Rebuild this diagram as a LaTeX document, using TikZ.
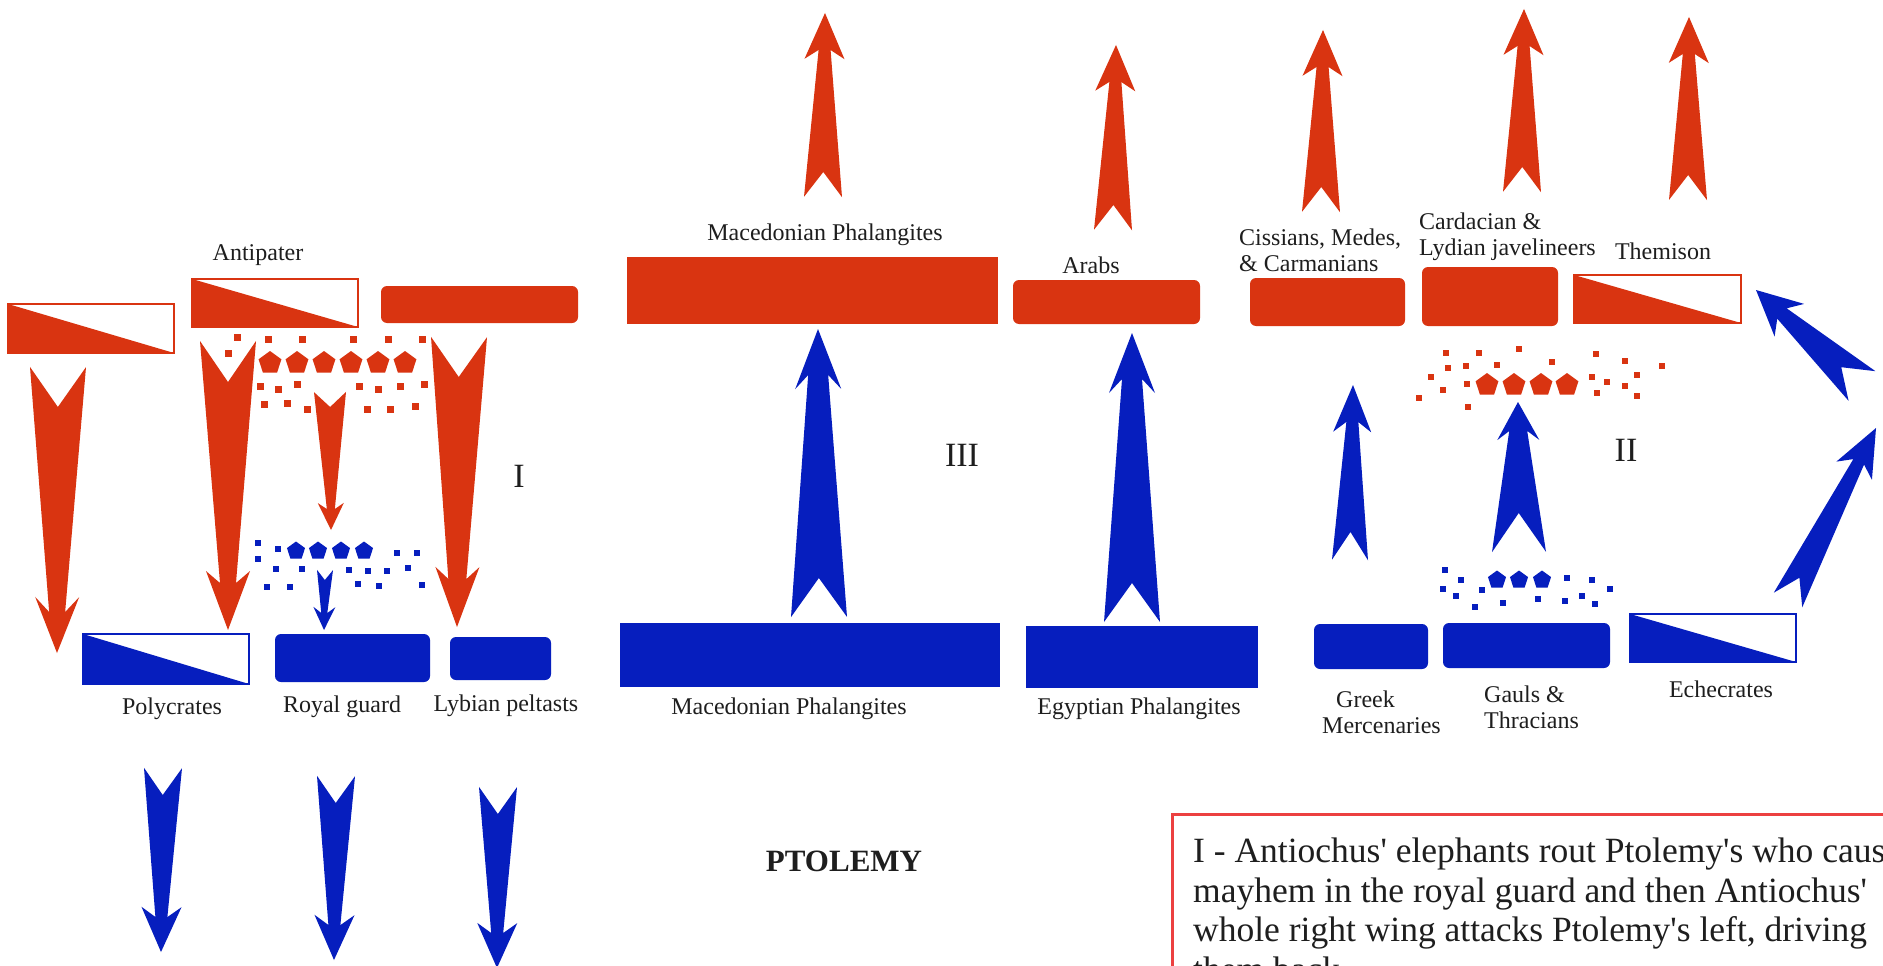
\documentclass[tikz,border=0pt]{standalone}
\usepackage{fontspec}
\setmainfont{Liberation Serif}
\newfontfamily\notefont{Liberation Serif}
\usetikzlibrary{calc}
\definecolor{redA}{RGB}{217,52,17}
\definecolor{blueA}{RGB}{6,30,190}
\definecolor{noteRed}{RGB}{236,64,64}
\definecolor{txt}{RGB}{30,30,30}

\pgfkeys{/arr/.cd,
  wt/.store in=\arrwt, n/.store in=\arrn, wn/.store in=\arrwn,
  wh/.store in=\arrwh, h/.store in=\arrh, d/.store in=\arrd, col/.store in=\arrcol}
% tapered barbed arrow from tail coordinate #2 to tip coordinate #3
\newcommand\battlearrow[3][]{%
  \begingroup
  \pgfkeys{/arr/.cd, wt=19, n=25, wn=6, wh=20, h=46, d=9, col=redA, #1}%
  \pgfmathsetmacro\arrk{\arrh-\arrd}%
  \fill[\arrcol]
    ($(#2)!\arrwt pt!90:(#3)$) -- ($(#2)!\arrn pt!(#3)$) -- ($(#2)!\arrwt pt!-90:(#3)$)
    -- ($(#3)!\arrk pt!(#2)!\arrwn pt!90:(#2)$) -- ($(#3)!\arrh pt!(#2)!\arrwh pt!90:(#2)$)
    -- (#3)
    -- ($(#3)!\arrh pt!(#2)!\arrwh pt!-90:(#2)$) -- ($(#3)!\arrk pt!(#2)!\arrwn pt!-90:(#2)$)
    -- cycle;
  \endgroup}
% half-filled unit box (commander / cavalry)
\newcommand\halfbox[5]{%
  \node[rectangle, draw=#2, line width=2.5pt, fill=white, inner sep=0pt, outer sep=0pt,
        minimum width=#4pt, minimum height=#5pt] (#1) at (#3) {};
  \fill[#2] (#1.north west) -- (#1.south east) -- (#1.south west) -- cycle;}
\newcommand\pent[3]{\fill[#1] (#2) +(270:#3) -- +(342:#3) -- +(54:#3) -- +(126:#3) -- +(198:#3) -- cycle;}

\tikzset{
  blk/.style={rectangle, inner sep=0pt, outer sep=0pt},
  redblk/.style={blk, fill=redA, rounded corners=6pt},
  redsharp/.style={blk, fill=redA},
  blueblk/.style={blk, fill=blueA, rounded corners=6pt},
  bluesharp/.style={blk, fill=blueA},
  lbl/.style={text=txt, inner sep=0pt, font=\fontsize{24}{26}\selectfont},
  mlbl/.style={lbl, align=left, anchor=west},
  numeral/.style={text=txt, inner sep=0pt, font=\fontsize{34}{34}\selectfont},
}

\begin{document}
\begin{tikzpicture}[x=1pt, y=-1pt]
\useasboundingbox (0,0) rectangle (1883,966);
\clip (0,0) rectangle (1883,966);
\fill[white] (0,0) rectangle (1883,966);

% ---------------- Antiochus (red) line ----------------
\halfbox{leftcav}{redA}{91,328.5}{166}{49}
\halfbox{antipater}{redA}{275,303}{166}{48}
\node[redblk, minimum width=197pt, minimum height=37pt] (redinf) at (479.5,304.5) {};
\node[redsharp, minimum width=371pt, minimum height=67pt] (macR) at (812.5,290.5) {};
\node[redblk, minimum width=187pt, minimum height=44pt] (arabs) at (1106.5,302) {};
\node[redblk, minimum width=155pt, minimum height=48pt] (cissians) at (1327.5,302) {};
\node[redblk, minimum width=136pt, minimum height=59pt] (cardacian) at (1490,296.5) {};
\halfbox{themison}{redA}{1657.5,299}{167}{48}

\node[lbl] (antipaterlbl) at (258,255) {Antipater};
\node[lbl] (macRlbl) at (825,235) {Macedonian Phalangites};
\node[lbl] (arabslbl) at (1091,265) {Arabs};
\node[mlbl] (cissianslbl) at (1239,250) {Cissians, Medes,\\\& Carmanians};
\node[mlbl] (cardacianlbl) at (1419,237) {Cardacian \&\\Lydian javelineers};
\node[lbl] (themisonlbl) at (1663,251) {Themison};

% ---------------- Ptolemy (blue) line ----------------
\halfbox{polycrates}{blueA}{166,659}{166}{50}
\node[blueblk, minimum width=155pt, minimum height=48pt] (royal) at (352.5,658) {};
\node[blueblk, minimum width=101pt, minimum height=43pt] (lybian) at (500.5,658.5) {};
\node[bluesharp, minimum width=380pt, minimum height=64pt] (macB) at (810,655) {};
\node[bluesharp, minimum width=232pt, minimum height=62pt] (egypt) at (1142,657) {};
\node[blueblk, minimum width=114pt, minimum height=45pt] (greek) at (1371,646.5) {};
\node[blueblk, minimum width=167pt, minimum height=45pt] (gauls) at (1526.5,645.5) {};
\halfbox{echecrates}{blueA}{1713,638}{166}{48}

\node[lbl] (polycrateslbl) at (172,709) {Polycrates};
\node[lbl] (royallbl) at (342,707) {Royal guard};
\node[lbl] (lybianlbl) at (506,706) {Lybian peltasts};
\node[lbl] (macBlbl) at (789,709) {Macedonian Phalangites};
\node[lbl] (egyptlbl) at (1139,709) {Egyptian Phalangites};
\node[mlbl] (greeklbl) at (1322,712) {\hspace*{14pt}Greek\\Mercenaries};
\node[mlbl] (gaulslbl) at (1484,707) {Gauls \&\\Thracians};
\node[lbl] (echecrateslbl) at (1721,689) {Echecrates};

% ---------------- elephants and light troops ----------------
\foreach \c in {270,297,324,351,378,405} {\pent{redA}{\c,363}{12}}
\foreach \p in {(237,337),(268,339),(302,339),(353,339),(388,339),(422,339),(228,353),
  (260,386),(278,389),(297,384),(359,386),(378,389),(400,386),(424,384),
  (264,404),(287,403),(307,409),(367,409),(390,409),(415,406)}
  {\fill[redA] \p ++(-3.5,-3.5) rectangle ++(7,7);}

\foreach \c in {296,318,341,364} {\pent{blueA}{\c,551}{9.5}}
\foreach \p in {(258,543),(258,559),(278,549),(397,553),(417,553),(276,569),(302,569),
  (349,570),(368,571),(387,571),(408,568),(267,587),(290,587),(358,584),(379,586),(422,585)}
  {\fill[blueA] \p ++(-3,-3) rectangle ++(6,6);}

\foreach \c in {1487,1514,1541,1567} {\pent{redA}{\c,385}{12}}
\foreach \p in {(1446,353),(1479,353),(1519,349),(1448,368),(1466,366),(1497,365),(1552,362),
  (1431,377),(1467,384),(1443,390),(1419,398),(1468,407),(1596,354),(1625,361),(1662,366),
  (1592,377),(1607,382),(1637,375),(1625,386),(1597,393),(1637,396)}
  {\fill[redA] \p ++(-3,-3) rectangle ++(6,6);}

\foreach \c in {1497,1519,1542} {\pent{blueA}{\c,580}{9.5}}
\foreach \p in {(1445,570),(1461,580),(1443,589),(1456,596),(1482,590),(1475,607),(1503,603),
  (1538,599),(1567,578),(1592,580),(1610,589),(1565,601),(1582,596),(1595,604)}
  {\fill[blueA] \p ++(-3,-3) rectangle ++(6,6);}

% ---------------- arrow end points ----------------
\coordinate (r1a) at (58,367);   \coordinate (r1b) at (57,653);
\coordinate (r2a) at (228,341);  \coordinate (r2b) at (228,630);
\coordinate (r3a) at (459,337);  \coordinate (r3b) at (457,627);
\coordinate (r4a) at (330,392);  \coordinate (r4b) at (331,530);
\coordinate (a1a) at (823,197);  \coordinate (a1b) at (825,13);
\coordinate (a2a) at (1113,230); \coordinate (a2b) at (1116,45);
\coordinate (a3a) at (1321,212); \coordinate (a3b) at (1323,30);
\coordinate (a4a) at (1522,192); \coordinate (a4b) at (1524,9);
\coordinate (a5a) at (1688,200); \coordinate (a5b) at (1689,17);

\coordinate (bsa) at (325,570);  \coordinate (bsb) at (324,630);
\coordinate (b1a) at (163,768);  \coordinate (b1b) at (161,952);
\coordinate (b2a) at (336,776);  \coordinate (b2b) at (334,960);
\coordinate (b3a) at (498,787);  \coordinate (b3b) at (497,968);
\coordinate (bma) at (819,617);  \coordinate (bmb) at (818,329);
\coordinate (bea) at (1132,622); \coordinate (beb) at (1132,333);
\coordinate (bga) at (1350,560); \coordinate (bgb) at (1353,385);
\coordinate (bta) at (1519,552); \coordinate (btb) at (1518,402);
\coordinate (bx1a) at (1788,600); \coordinate (bx1b) at (1876,428);
\coordinate (bx2a) at (1862,386); \coordinate (bx2b) at (1756,290);

% ---------------- red arrows ----------------
\battlearrow[wt=28,n=40,wn=8,wh=22,h=56,d=15]{r1a}{r1b}
\battlearrow[wt=28,n=41,wn=8,wh=22,h=59,d=12]{r2a}{r2b}
\battlearrow[wt=28,n=40,wn=9,wh=22,h=60,d=12]{r3a}{r3b}
\battlearrow[wt=16,n=15,wn=4,wh=13,h=27,d=6]{r4a}{r4b}
\battlearrow{a1a}{a1b}
\battlearrow{a2a}{a2b}
\battlearrow{a3a}{a3b}
\battlearrow{a4a}{a4b}
\battlearrow{a5a}{a5b}

% ---------------- blue arrows ----------------
\battlearrow[col=blueA,wt=8,n=10,wn=3,wh=11,h=23,d=6]{bsa}{bsb}
\battlearrow[col=blueA,wt=19,n=27,wn=6,wh=20,h=45,d=10]{b1a}{b1b}
\battlearrow[col=blueA,wt=19,n=27,wn=6,wh=20,h=45,d=10]{b2a}{b2b}
\battlearrow[col=blueA,wt=19,n=27,wn=6,wh=20,h=45,d=10]{b3a}{b3b}
\battlearrow[col=blueA,wt=28,n=39,wn=10,wh=23,h=60,d=14]{bma}{bmb}
\battlearrow[col=blueA,wt=28,n=39,wn=10,wh=23,h=60,d=14]{bea}{beb}
\battlearrow[col=blueA,wt=18,n=28,wn=6,wh=19,h=47,d=10]{bga}{bgb}
\battlearrow[col=blueA,wt=27,n=39,wn=9,wh=21,h=38,d=9]{bta}{btb}
\battlearrow[col=blueA,wt=16,n=25,wn=6,wh=20,h=48,d=10]{bx1a}{bx1b}
\battlearrow[col=blueA,wt=20,n=28,wn=7,wh=22,h=45,d=10]{bx2a}{bx2b}

% ---------------- numerals and titles ----------------
\node[numeral] (numI) at (519,476) {I};
\node[numeral] (numIII) at (962,455) {III};
\node[numeral] (numII) at (1626,450) {II};
\node[text=txt, inner sep=0pt, font=\bfseries\fontsize{31}{31}\selectfont] (ptolemy) at (844,861) {PTOLEMY};

% ---------------- notes box ----------------
\draw[noteRed, line width=3pt] (1172.5,814.5) rectangle (1960,1040);
\node[anchor=north west, align=left, inner sep=0pt, text=txt,
      font=\notefont\fontsize{35.5}{39.5}\selectfont] (notes) at (1193,838)
  {I - Antiochus' elephants rout Ptolemy's who cause\\
   mayhem in the royal guard and then Antiochus'\\
   whole right wing attacks Ptolemy's left, driving\\
   them back.};
\end{tikzpicture}
\end{document}
